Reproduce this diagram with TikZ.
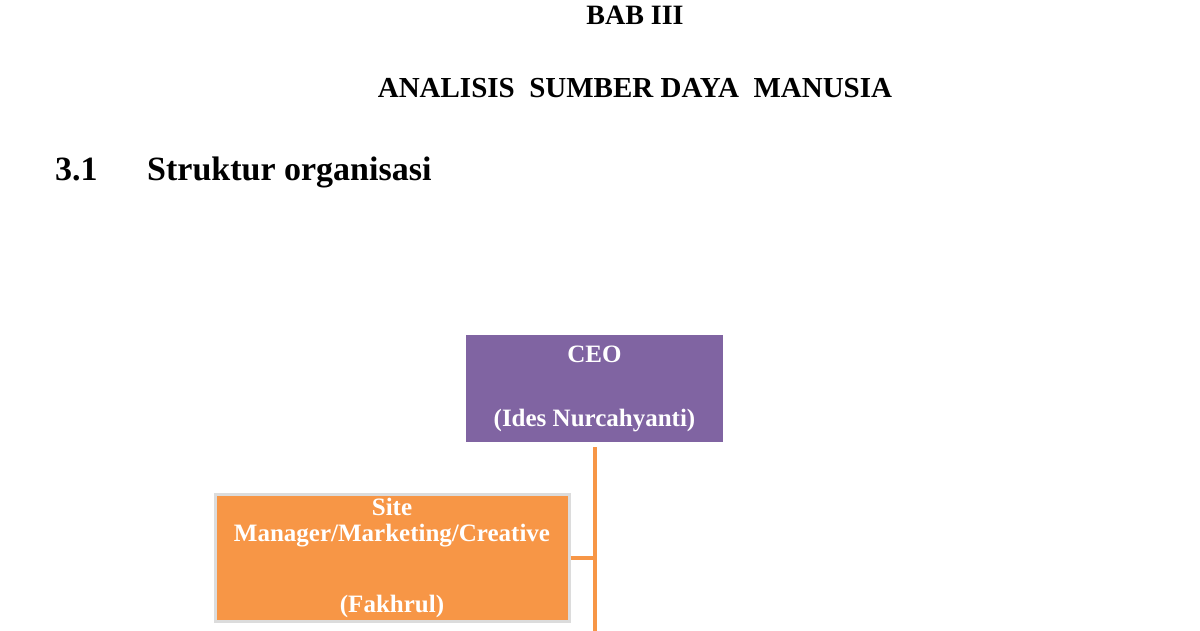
\documentclass[tikz,border=0pt]{standalone}
\usepackage{fontspec}
\setmainfont{Liberation Serif}
\usetikzlibrary{positioning}
\definecolor{ceopurple}{HTML}{8064A2}
\definecolor{siteorange}{HTML}{F79646}
\definecolor{siteedge}{HTML}{DCDCDC}
\tikzset{
  heading/.style={font=\bfseries\fontsize{28}{32}\selectfont},
  subheading/.style={font=\bfseries\fontsize{34}{38}\selectfont, anchor=base west, inner sep=0pt},
  boxtext/.style={text=white, align=center, font=\bfseries\fontsize{25}{26}\selectfont},
  orgline/.style={draw=siteorange, line width=4pt}
}
\begin{document}
\begin{tikzpicture}[x=1pt,y=1pt]
\useasboundingbox[fill=white] (0,0) rectangle (1200,-630);
\node[heading] (bab) at (635,-15) {BAB III};
\node[heading, font=\bfseries\fontsize{29}{32}\selectfont] (judul) at (635,-88) {ANALISIS \ SUMBER DAYA \ MANUSIA};
\node[subheading] (subnum) at (55,-180) {3.1};
\node[subheading] (subjudul) at (147,-180) {Struktur organisasi};

\node[boxtext, fill=ceopurple, minimum width=257pt, minimum height=107pt] (ceo) at (594.5,-388.5) {CEO\\[38pt](Ides Nurcahyanti)};
\node[boxtext, fill=siteorange, draw=siteedge, line width=3pt, minimum width=354pt, minimum height=127pt] (site) at (392,-557.5) {Site\\Manager/Marketing/Creative\\[45pt](Fakhrul)};

\coordinate (spine) at (595,-632);
\draw[orgline, shorten <=5pt] (ceo.south) -- (ceo.south |- spine);
\draw[orgline] (site.east) -- (site.east -| spine);
\end{tikzpicture}
\end{document}
